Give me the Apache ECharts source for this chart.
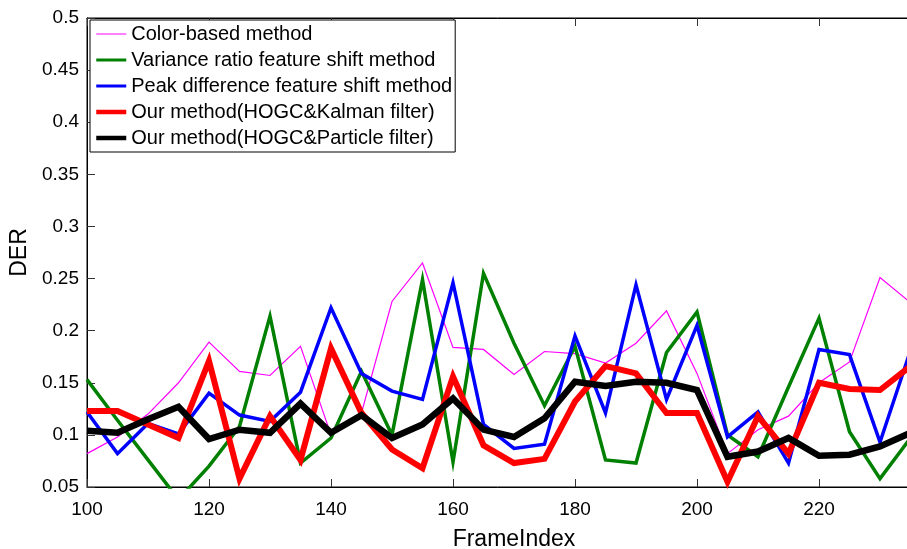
<!DOCTYPE html>
<html>
<head>
<meta charset="utf-8">
<script src="https://cdn.jsdelivr.net/npm/echarts@6/dist/echarts.min.js"></script>
<style>html,body{margin:0;padding:0;background:#fff;}#c{width:907px;height:549px;}</style>
</head>
<body>
<div id="c"></div>
<script>
var frames = [100,105,110,115,120,125,130,135,140,145,150,155,160,165,170,175,180,185,190,195,200,205,210,215,220,225,230,235];
var colorBased = [0.082,0.098,0.120,0.150,0.189,0.161,0.157,0.185,0.100,0.121,0.228,0.265,0.184,0.182,0.158,0.180,0.178,0.169,0.188,0.219,0.159,0.082,0.105,0.118,0.150,0.170,0.251,0.227];
var varianceRatio = [0.153,0.114,0.076,0.038,0.070,0.108,0.214,0.073,0.097,0.161,0.100,0.249,0.074,0.255,0.188,0.128,0.185,0.076,0.073,0.179,0.218,0.100,0.079,0.146,0.212,0.103,0.058,0.097];
var peakDiff = [0.122,0.082,0.111,0.101,0.140,0.119,0.113,0.141,0.222,0.159,0.142,0.134,0.246,0.110,0.087,0.091,0.195,0.121,0.244,0.134,0.205,0.098,0.122,0.073,0.182,0.177,0.093,0.181];
var ourKalman = [0.123,0.123,0.110,0.097,0.171,0.058,0.118,0.076,0.183,0.121,0.086,0.068,0.156,0.090,0.073,0.077,0.132,0.166,0.159,0.121,0.121,0.055,0.118,0.082,0.150,0.144,0.143,0.166];
var ourParticle = [0.104,0.102,0.115,0.127,0.096,0.105,0.102,0.130,0.102,0.119,0.097,0.110,0.135,0.105,0.098,0.116,0.151,0.147,0.151,0.150,0.143,0.079,0.084,0.097,0.080,0.081,0.089,0.102];
var seriesNames = ['Color-based method','Variance ratio feature shift method','Peak difference feature shift method','Our method(HOGC&Kalman filter)','Our method(HOGC&Particle filter)'];
var seriesColors = ['#ff00ff','#008000','#0000ff','#ff0000','#000000'];
var seriesWidths = [1.2,3.5,3.5,6,6.5];
var legendWidths = [1,3,3,4.5,4.5];
var seriesData = [colorBased,varianceRatio,peakDiff,ourKalman,ourParticle];

function pairs(vals){ return frames.map(function(f,i){ return [f, vals[i]]; }); }

var chart = echarts.init(document.getElementById('c'), null, {renderer:'canvas'});
var font = 'Liberation Sans, Arial, sans-serif';
var series = seriesNames.map(function(n,i){
  return {
    name:n, type:'line', data:pairs(seriesData[i]), symbol:'none', showSymbol:false,
    lineStyle:{color:seriesColors[i], width:seriesWidths[i], join:'miter'},
    itemStyle:{color:seriesColors[i]}, animation:false, clip:true, z:2+i
  };
});
chart.setOption({
  animation:false,
  backgroundColor:'#fff',
  grid:{left:87, top:18, width:854, bottom:62, show:true, borderColor:'#000', borderWidth:1,
        backgroundColor:'transparent', outerBoundsMode:'none', containLabel:false},
  legend:{
    orient:'vertical', left:90, top:20, padding:[4,3,4,4],
    itemWidth:30, itemHeight:14, itemGap:6,
    borderColor:'#000', borderWidth:1, backgroundColor:'#fff',
    data:seriesNames.map(function(n,i){ return {name:n,
      lineStyle:{color:seriesColors[i], width:legendWidths[i], opacity:1},
      itemStyle:{color:seriesColors[i], opacity:0, borderWidth:0}}; }),
    textStyle:{fontFamily:font, fontSize:20, color:'#000', lineHeight:20},
    selectedMode:false
  },
  xAxis:[{
    type:'value', min:100, max:240, interval:20,
    name:'FrameIndex', nameLocation:'middle', nameGap:41,
    nameTextStyle:{fontFamily:font, fontSize:23, color:'#000'},
    axisLine:{show:true, onZero:false, lineStyle:{color:'#000', width:1}},
    axisTick:{show:true, inside:true, length:8, lineStyle:{color:'#333'}},
    axisLabel:{fontFamily:font, fontSize:19, color:'#000', margin:13},
    splitLine:{show:false}
  },{
    type:'value', position:'top', min:100, max:240, interval:20,
    axisLine:{show:true, onZero:false, lineStyle:{color:'#000'}},
    axisTick:{show:true, inside:true, length:8, lineStyle:{color:'#333'}},
    axisLabel:{show:false}, splitLine:{show:false}
  }],
  yAxis:{
    type:'value', min:0.05, max:0.5, interval:0.05,
    name:'DER', nameLocation:'middle', nameGap:55, nameRotate:90,
    nameTextStyle:{fontFamily:font, fontSize:23, color:'#000'},
    axisLine:{show:true, onZero:false, lineStyle:{color:'#000', width:1}},
    axisTick:{show:true, inside:true, length:8, lineStyle:{color:'#333'}},
    axisLabel:{fontFamily:font, fontSize:19, color:'#000', margin:8,
      formatter:function(v){ return String(+v.toFixed(2)); }},
    splitLine:{show:false}
  },
  series:series
});
</script>
</body>
</html>
